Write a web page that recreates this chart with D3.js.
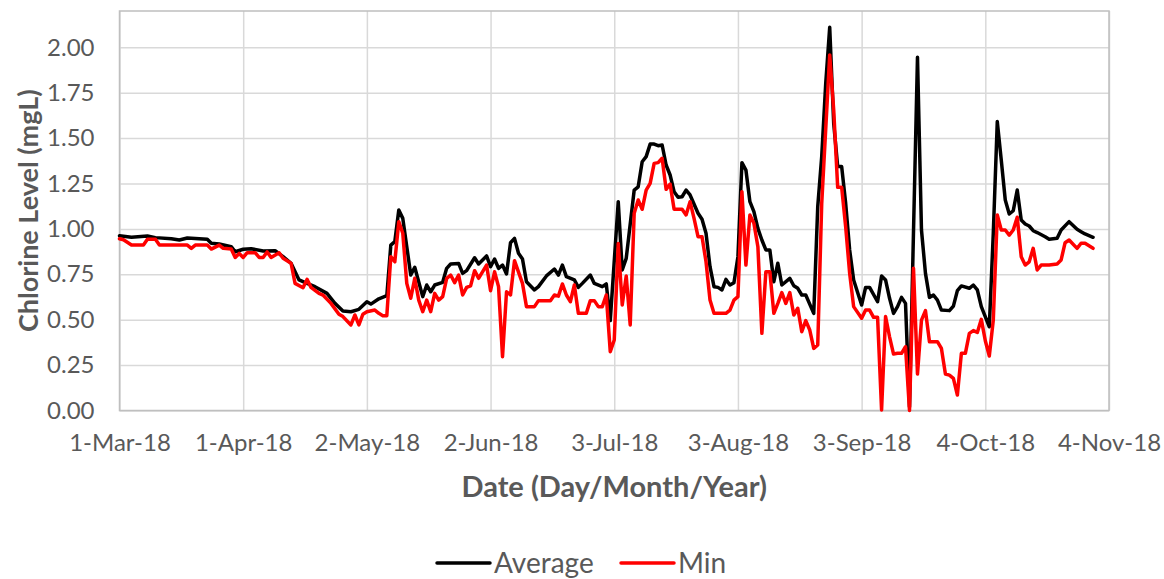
<!DOCTYPE html>
<html><head><meta charset="utf-8">
<script src="https://cdn.jsdelivr.net/npm/d3@7"></script>
<style>body{margin:0;background:#fff}svg{display:block}</style>
</head><body><svg id="c" width="1164" height="579"></svg>
<script>
const avgDates = ["2018-03-01","2018-03-04","2018-03-08","2018-03-10","2018-03-14","2018-03-16","2018-03-18","2018-03-23","2018-03-24","2018-03-26","2018-03-29","2018-03-30",
"2018-04-01","2018-04-03","2018-04-06","2018-04-09","2018-04-11","2018-04-13","2018-04-15","2018-04-17","2018-04-19","2018-04-22","2018-04-24","2018-04-26","2018-04-28","2018-04-30",
"2018-05-02","2018-05-03","2018-05-05","2018-05-07","2018-05-08","2018-05-09","2018-05-10","2018-05-11","2018-05-13","2018-05-14","2018-05-16","2018-05-17","2018-05-18","2018-05-19","2018-05-21","2018-05-22","2018-05-23","2018-05-25","2018-05-26","2018-05-27","2018-05-29","2018-05-30",
"2018-06-01","2018-06-02","2018-06-03","2018-06-04","2018-06-05","2018-06-06","2018-06-07","2018-06-08","2018-06-09","2018-06-10","2018-06-11","2018-06-13","2018-06-14","2018-06-16","2018-06-18","2018-06-19","2018-06-20","2018-06-21","2018-06-23","2018-06-24","2018-06-25","2018-06-27","2018-06-28","2018-06-30",
"2018-07-01","2018-07-02","2018-07-04","2018-07-05","2018-07-06","2018-07-08","2018-07-09","2018-07-10","2018-07-11","2018-07-12","2018-07-13","2018-07-14","2018-07-15","2018-07-16","2018-07-17","2018-07-18","2018-07-19","2018-07-20","2018-07-21","2018-07-22","2018-07-24","2018-07-25","2018-07-26","2018-07-27","2018-07-28","2018-07-29","2018-07-30","2018-07-31",
"2018-08-01","2018-08-02","2018-08-03","2018-08-04","2018-08-05","2018-08-06","2018-08-07","2018-08-08","2018-08-09","2018-08-10","2018-08-11","2018-08-12","2018-08-13","2018-08-14","2018-08-16","2018-08-17","2018-08-18","2018-08-19","2018-08-20","2018-08-22","2018-08-23","2018-08-24","2018-08-25","2018-08-26","2018-08-27","2018-08-28","2018-08-29","2018-08-30","2018-08-31",
"2018-09-01","2018-09-03","2018-09-04","2018-09-05","2018-09-07","2018-09-08","2018-09-09","2018-09-10","2018-09-11","2018-09-12","2018-09-13","2018-09-14","2018-09-15","2018-09-17","2018-09-18","2018-09-19","2018-09-20","2018-09-21","2018-09-22","2018-09-23","2018-09-25","2018-09-26","2018-09-27","2018-09-28","2018-09-30",
"2018-10-01","2018-10-02","2018-10-03","2018-10-05","2018-10-06","2018-10-07","2018-10-08","2018-10-09","2018-10-10","2018-10-11","2018-10-12","2018-10-13","2018-10-14","2018-10-15","2018-10-16","2018-10-17","2018-10-19","2018-10-20","2018-10-22","2018-10-23","2018-10-25","2018-10-27","2018-10-28","2018-10-29","2018-10-31"];
const avgValues = [0.962,0.954,0.961,0.952,0.946,0.939,0.950,0.943,0.921,0.917,0.902,0.874,
0.888,0.891,0.878,0.880,0.847,0.811,0.719,0.700,0.682,0.645,0.590,0.548,0.544,0.557,
0.599,0.586,0.615,0.632,0.911,0.930,1.104,1.058,0.746,0.789,0.627,0.691,0.654,0.691,0.706,0.783,0.807,0.810,0.755,0.770,0.841,0.807,
0.851,0.792,0.834,0.783,0.801,0.752,0.924,0.948,0.866,0.834,0.709,0.664,0.682,0.741,0.779,0.746,0.801,0.737,0.719,0.678,0.700,0.746,0.700,0.682,
0.697,0.495,1.150,0.774,0.838,1.214,1.232,1.370,1.398,1.467,1.467,1.458,1.462,1.352,1.297,1.205,1.174,1.177,1.214,1.187,1.086,1.053,0.976,0.792,0.682,0.678,0.664,0.722,
0.691,0.704,0.847,1.365,1.324,1.150,1.095,1.003,0.939,0.884,0.884,0.709,0.811,0.691,0.728,0.687,0.673,0.636,0.636,0.535,1.122,1.40,1.80,2.110,1.582,1.343,1.343,1.141,0.884,
0.719,0.581,0.678,0.678,0.599,0.741,0.719,0.618,0.535,0.572,0.623,0.590,0.020,1.945,0.994,0.755,0.623,0.636,0.608,0.553,0.550,0.575,0.660,0.686,0.673,
0.691,0.664,0.572,0.461,0.976,1.591,1.379,1.159,1.082,1.100,1.214,1.049,1.027,1.016,0.990,0.980,0.957,0.943,0.948,0.994,1.040,0.998,0.985,0.972,0.954];

const minDates = ["2018-03-01","2018-03-02","2018-03-04","2018-03-07","2018-03-08","2018-03-10","2018-03-11","2018-03-18","2018-03-19","2018-03-20","2018-03-23","2018-03-24","2018-03-26","2018-03-27","2018-03-29","2018-03-30","2018-03-31",
"2018-04-01","2018-04-02","2018-04-04","2018-04-05","2018-04-06","2018-04-07","2018-04-08","2018-04-10","2018-04-11","2018-04-13","2018-04-14","2018-04-16","2018-04-17","2018-04-18","2018-04-20","2018-04-21","2018-04-23","2018-04-25","2018-04-26","2018-04-28","2018-04-29","2018-04-30",
"2018-05-01","2018-05-02","2018-05-04","2018-05-05","2018-05-06","2018-05-07","2018-05-08","2018-05-09","2018-05-10","2018-05-11","2018-05-12","2018-05-13","2018-05-14","2018-05-15","2018-05-16","2018-05-17","2018-05-18","2018-05-19","2018-05-20","2018-05-21","2018-05-22","2018-05-23","2018-05-24","2018-05-25","2018-05-26","2018-05-27","2018-05-28","2018-05-29","2018-05-30",
"2018-06-01","2018-06-02","2018-06-03","2018-06-04","2018-06-05","2018-06-06","2018-06-07","2018-06-08","2018-06-10","2018-06-11","2018-06-13","2018-06-14","2018-06-17","2018-06-18","2018-06-19","2018-06-20","2018-06-21","2018-06-22","2018-06-23","2018-06-24","2018-06-26","2018-06-27","2018-06-28","2018-06-29","2018-06-30",
"2018-07-01","2018-07-02","2018-07-03","2018-07-04","2018-07-05","2018-07-06","2018-07-07","2018-07-08","2018-07-09","2018-07-10","2018-07-11","2018-07-12","2018-07-13","2018-07-14","2018-07-15","2018-07-16","2018-07-17","2018-07-18","2018-07-20","2018-07-21","2018-07-22","2018-07-23","2018-07-24","2018-07-25","2018-07-26","2018-07-27","2018-07-28","2018-07-31",
"2018-08-01","2018-08-02","2018-08-03","2018-08-04","2018-08-05","2018-08-06","2018-08-07","2018-08-08","2018-08-09","2018-08-10","2018-08-11","2018-08-12","2018-08-13","2018-08-14","2018-08-15","2018-08-16","2018-08-17","2018-08-18","2018-08-19","2018-08-20","2018-08-21","2018-08-22","2018-08-23","2018-08-24","2018-08-26","2018-08-27","2018-08-28","2018-08-29","2018-08-30","2018-08-31",
"2018-09-01","2018-09-03","2018-09-04","2018-09-05","2018-09-06","2018-09-07","2018-09-08","2018-09-09","2018-09-10","2018-09-11","2018-09-12","2018-09-13","2018-09-14","2018-09-15","2018-09-16","2018-09-17","2018-09-18","2018-09-19","2018-09-20","2018-09-22","2018-09-23","2018-09-24","2018-09-25","2018-09-26","2018-09-27","2018-09-28","2018-09-29","2018-09-30",
"2018-10-01","2018-10-02","2018-10-03","2018-10-04","2018-10-05","2018-10-06","2018-10-07","2018-10-08","2018-10-09","2018-10-10","2018-10-11","2018-10-12","2018-10-13","2018-10-14","2018-10-15","2018-10-16","2018-10-17","2018-10-18","2018-10-20","2018-10-22","2018-10-23","2018-10-24","2018-10-25","2018-10-27","2018-10-28","2018-10-29","2018-10-31"];
const minValues = [0.946,0.940,0.911,0.911,0.943,0.943,0.911,0.911,0.893,0.911,0.911,0.889,0.911,0.893,0.889,0.843,0.865,
0.843,0.869,0.869,0.843,0.843,0.873,0.843,0.869,0.838,0.811,0.700,0.676,0.722,0.678,0.645,0.636,0.590,0.530,0.517,0.471,0.526,0.471,
0.530,0.544,0.553,0.535,0.522,0.522,0.847,0.819,1.040,0.976,0.700,0.618,0.728,0.608,0.544,0.608,0.544,0.645,0.608,0.627,0.728,0.746,0.704,0.746,0.636,0.678,0.686,0.770,0.728,
0.801,0.660,0.764,0.682,0.296,0.654,0.636,0.825,0.700,0.572,0.572,0.605,0.605,0.636,0.630,0.697,0.636,0.599,0.691,0.535,0.535,0.605,0.605,0.572,0.572,
0.636,0.324,0.388,0.920,0.581,0.741,0.471,1.086,1.159,1.108,1.214,1.251,1.361,1.365,1.389,1.218,1.247,1.108,1.108,1.077,1.150,1.058,0.957,0.957,0.819,0.608,0.535,0.535,
0.553,0.608,0.627,1.205,0.801,1.077,1.031,0.902,0.425,0.764,0.764,0.535,0.590,0.649,0.590,0.649,0.526,0.563,0.434,0.495,0.443,0.342,0.361,1.141,1.958,1.655,1.229,1.229,1.012,0.755,
0.572,0.508,0.553,0.553,0.513,0.513,0.003,0.517,0.406,0.311,0.315,0.315,0.351,0.000,0.783,0.201,0.498,0.550,0.379,0.379,0.342,0.201,0.195,0.177,0.085,0.315,0.315,0.425,
0.440,0.430,0.502,0.384,0.300,0.498,1.077,0.994,0.994,0.966,0.994,1.064,0.847,0.801,0.819,0.893,0.774,0.801,0.801,0.807,0.829,0.924,0.939,0.893,0.921,0.921,0.893];

const xTickDates = ["2018-03-01","2018-04-01","2018-05-02","2018-06-02","2018-07-03","2018-08-03","2018-09-03","2018-10-04","2018-11-04"];
const xTickLabels = ["1-Mar-18","1-Apr-18","2-May-18","2-Jun-18","3-Jul-18","3-Aug-18","3-Sep-18","4-Oct-18","4-Nov-18"];
const yTicks = [0,0.25,0.5,0.75,1.0,1.25,1.5,1.75,2.0];
const seriesNames = ["Average","Min"];
const seriesColors = ["#000000","#ff0000"];

const FONT = "Lato, 'Open Sans', sans-serif";
const TXT = "#595959";
const m = {l:119.5, r:1109, t:11, b:410.5};
const parse = d3.utcParse("%Y-%m-%d");
const x = d3.scaleUtc().domain([parse("2018-03-01"), parse("2018-11-04")]).range([m.l, m.r]);
const y = d3.scaleLinear().domain([0, 2.2]).range([m.b, m.t]);
const svg = d3.select("#c");

// horizontal gridlines + y labels
const gy = svg.append("g").attr("transform", `translate(${m.l},0)`)
  .call(d3.axisLeft(y).tickValues(yTicks).tickSize(-(m.r - m.l)).tickPadding(25).tickFormat(d3.format(".2f")));
gy.select(".domain").remove();
gy.selectAll("line").attr("stroke", "#d9d9d9").attr("stroke-width", 1.5);
gy.selectAll("text").attr("fill", TXT).style("font-family", FONT).style("font-size", "24px");

// vertical gridlines + x labels
const tickD = xTickDates.map(parse);
const gx = svg.append("g").attr("transform", `translate(0,${m.b})`)
  .call(d3.axisBottom(x).tickValues(tickD).tickSize(-(m.b - m.t)).tickPadding(23)
    .tickFormat((d, i) => xTickLabels[i]));
gx.select(".domain").remove();
gx.selectAll("line").attr("stroke", "#d9d9d9").attr("stroke-width", 1.5);
gx.selectAll("text").attr("fill", TXT).style("font-family", FONT).style("font-size", "24px");

// plot border
svg.append("rect").attr("x", m.l).attr("y", m.t).attr("width", m.r - m.l).attr("height", m.b - m.t)
  .attr("fill", "none").attr("stroke", "#bfbfbf").attr("stroke-width", 1.5);

// lines
const series = [
  avgDates.map((d, i) => ({d: parse(d), v: avgValues[i]})),
  minDates.map((d, i) => ({d: parse(d), v: minValues[i]}))
];
const line = d3.line().x(p => x(p.d)).y(p => y(p.v));
series.forEach((s, i) => {
  svg.append("path").datum(s).attr("d", line).attr("fill", "none")
    .attr("stroke", seriesColors[i]).attr("stroke-width", 3.5)
    .attr("stroke-linejoin", "round").attr("stroke-linecap", "round");
});

// axis titles
svg.append("text").attr("x", (m.l + m.r) / 2).attr("y", 497).attr("text-anchor", "middle")
  .attr("fill", TXT).style("font-family", FONT).style("font-weight", "bold").style("font-size", "29px")
  .text("Date (Day/Month/Year)");
svg.append("text").attr("transform", `translate(38,${(m.t + m.b) / 2}) rotate(-90)`).attr("text-anchor", "middle")
  .attr("fill", TXT).style("font-family", FONT).style("font-weight", "bold").style("font-size", "27px")
  .text("Chlorine Level (mgL)");

// legend
const legX = [437, 621];
seriesNames.forEach((n, i) => {
  svg.append("line").attr("x1", legX[i]).attr("x2", legX[i] + 53).attr("y1", 563).attr("y2", 563)
    .attr("stroke", seriesColors[i]).attr("stroke-width", 3.5).attr("stroke-linecap", "round");
  svg.append("text").attr("x", legX[i] + 57).attr("y", 573).attr("fill", TXT)
    .style("font-family", FONT).style("font-size", "28px").text(n);
});
</script></body></html>
